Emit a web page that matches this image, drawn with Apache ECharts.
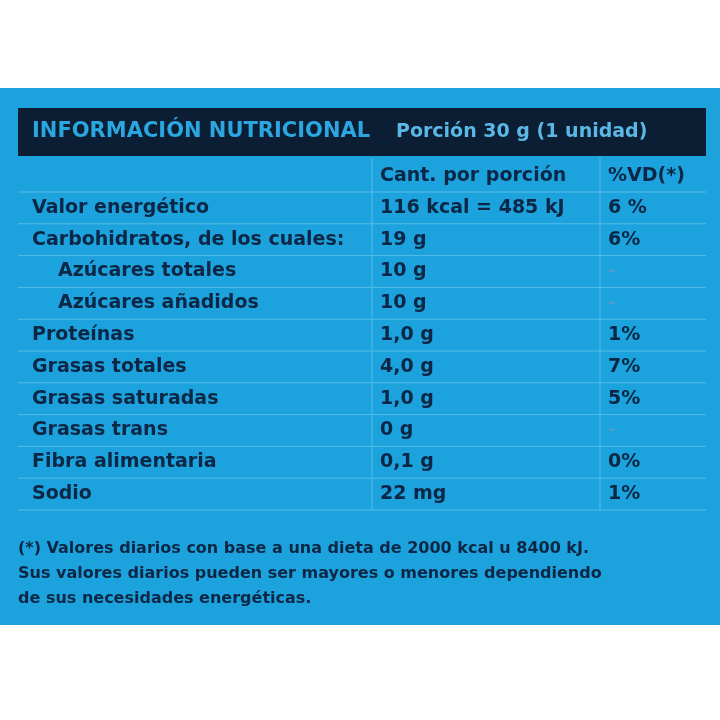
<!DOCTYPE html>
<html>
<head>
<meta charset="utf-8">
<script src="https://cdn.jsdelivr.net/npm/echarts@6/dist/echarts.min.js"></script>
<style>html,body{margin:0;padding:0;background:#fff}#chart{width:720px;height:720px}</style>
</head>
<body>
<div id="chart"></div>
<script>
// table data
var nutrients = ['Valor energético', 'Carbohidratos, de los cuales:', 'Azúcares totales', 'Azúcares añadidos',
  'Proteínas', 'Grasas totales', 'Grasas saturadas', 'Grasas trans', 'Fibra alimentaria', 'Sodio'];
var indented = [false, false, true, true, false, false, false, false, false, false];
var amounts = ['116 kcal = 485 kJ', '19 g', '10 g', '10 g', '1,0 g', '4,0 g', '1,0 g', '0 g', '0,1 g', '22 mg'];
var dailyValues = ['6 %', '6%', '-', '-', '1%', '7%', '5%', '-', '0%', '1%'];
var headers = ['Cant. por porción', '%VD(*)'];
var footnote = ['(*) Valores diarios con base a una dieta de 2000 kcal u 8400 kJ.',
  'Sus valores diarios pueden ser mayores o menores dependiendo',
  'de sus necesidades energéticas.'];

var myChart = echarts.init(document.getElementById('chart'));

var ink = '#0c2745';
var font = 'bold 19px "DejaVu Sans", sans-serif';
var top0 = 192, rowH = 31.8;
var els = [
  { type: 'rect', shape: { x: 0, y: 88, width: 720, height: 537 }, style: { fill: '#1ca2dd' } },
  { type: 'rect', shape: { x: 18, y: 108, width: 688, height: 48 }, style: { fill: '#0b1e33' } },
  { type: 'text', x: 32, y: 132, style: { text: 'INFORMACIÓN NUTRICIONAL', font: 'bold 21px "DejaVu Sans", sans-serif', fill: '#2aa6e0', verticalAlign: 'middle' } },
  { type: 'text', x: 396, y: 132, style: { text: 'Porción 30 g (1 unidad)', font: 'bold 19px "DejaVu Sans", sans-serif', fill: '#5bb8e6', verticalAlign: 'middle' } },
  { type: 'text', x: 380, y: 176, style: { text: headers[0], font: font, fill: ink, verticalAlign: 'middle' } },
  { type: 'text', x: 608, y: 176, style: { text: headers[1], font: font, fill: ink, verticalAlign: 'middle' } },
  { type: 'line', shape: { x1: 372, y1: 158, x2: 372, y2: top0 + rowH * nutrients.length }, style: { stroke: '#57bce8', lineWidth: 1 } },
  { type: 'line', shape: { x1: 600, y1: 158, x2: 600, y2: top0 + rowH * nutrients.length }, style: { stroke: '#57bce8', lineWidth: 1 } }
];
nutrients.forEach(function (n, i) {
  var yc = top0 + rowH * i + rowH / 2;
  els.push({ type: 'line', shape: { x1: 18, y1: top0 + rowH * i, x2: 706, y2: top0 + rowH * i }, style: { stroke: '#57bce8', lineWidth: 1 } });
  els.push({ type: 'text', x: indented[i] ? 58 : 32, y: yc, style: { text: n, font: font, fill: ink, verticalAlign: 'middle' } });
  els.push({ type: 'text', x: 380, y: yc, style: { text: amounts[i], font: font, fill: ink, verticalAlign: 'middle' } });
  els.push({ type: 'text', x: 608, y: yc, style: { text: dailyValues[i], font: font, fill: dailyValues[i] === '-' ? '#4a9fd0' : ink, verticalAlign: 'middle' } });
});
els.push({ type: 'line', shape: { x1: 18, y1: top0 + rowH * nutrients.length, x2: 706, y2: top0 + rowH * nutrients.length }, style: { stroke: '#57bce8', lineWidth: 1 } });
footnote.forEach(function (t, i) {
  els.push({ type: 'text', x: 18, y: 549 + i * 25, style: { text: t, font: 'bold 16px "DejaVu Sans", sans-serif', fill: ink, verticalAlign: 'middle' } });
});

myChart.setOption({ backgroundColor: '#fff', graphic: { elements: els } });
</script>
</body>
</html>
